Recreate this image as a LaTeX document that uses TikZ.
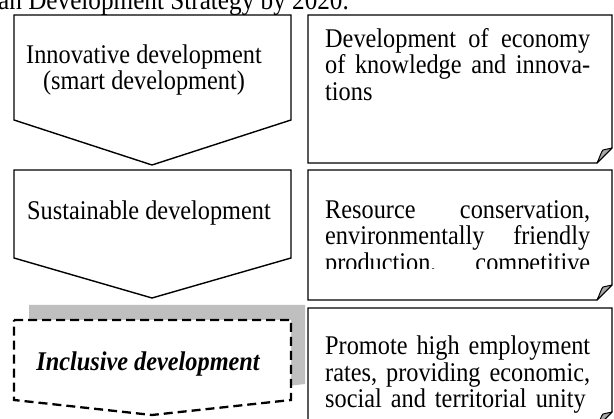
\documentclass[tikz,border=0pt]{standalone}
\usepackage{fontspec}
\setmainfont[FakeStretch=0.9]{Liberation Serif}
\begin{document}
\begin{tikzpicture}[x=1pt,y=-1pt,
  outline/.style={draw=black, line width=1.4pt, line join=miter},
  dashline/.style={draw=black, line width=2.3pt, dash pattern=on 9pt off 5pt},
  body/.style={font=\fontsize{27}{26.5}\selectfont, inner sep=0pt},
  note/.style={body, anchor=north west, text width=265pt, align=left},
  flap/.style={draw=black, line width=1pt, fill=black!35, line join=round}]
\useasboundingbox (0,0) rectangle (614,419);
\clip (0,0) rectangle (614,419);
\fill[white] (0,0) rectangle (614,419);

% heading line, cut by the upper edge
\node[body, anchor=base west, font=\fontsize{28}{26}\selectfont] (head) at (-2,10) {an Development Strategy by 2020.};

% ---------- row 1 ----------
\draw[outline] (14,15) -- (291,15) -- (291,120) -- (152,165) -- (14,120) -- cycle;
\node[body, align=center] (smart) at (144,70) {Innovative development\\(smart development)};
\draw[outline] (308,15) -- (612,15) -- (612,148) -- (597,163) -- (308,163) -- cycle;
\draw[flap] (612,148) -- (597,163) .. controls (600,157) and (601,152) .. (603,150) -- cycle;
\node[note] (knowledge) at (325,28)
  {Development\hfill of\hfill economy\\ of\hfill knowledge\hfill and\hfill innova-\\ tions};

% ---------- row 2 ----------
\draw[outline] (14,170) -- (291,170) -- (291,258) -- (152,298) -- (14,258) -- cycle;
\node[body] (sustain) at (149,213) {Sustainable development};
\draw[outline] (308,170) -- (612,170) -- (612,285) -- (597,300) -- (308,300) -- cycle;
\draw[flap] (612,285) -- (597,300) .. controls (600,294) and (601,289) .. (603,287) -- cycle;
\begin{scope}
  \clip (310,172) rectangle (610,269);
  \node[note] (resource) at (325,200)
    {Resource\hfill conservation,\\ environmentally\hfill friendly\\ production,\hfill competitive};
\end{scope}

% ---------- row 3 ----------
% soft grey shadow behind the dashed arrow
\fill[black!25] (29,305) -- (305,305) -- (305,384) -- (166,400) -- (29,386) -- cycle;
\fill[white] (14,320) -- (291,320) -- (291,400) -- (152,415) -- (14,400) -- cycle;
\draw[dashline] (14,320) -- (291,320) -- (291,400) -- (152,415) -- (14,400) -- cycle;
\node[body, font=\fontsize{27}{26}\selectfont\bfseries\itshape] (inclusive) at (148,364) {Inclusive development};
\draw[outline] (308,308) -- (612,308) -- (612,412) -- (597,427) -- (308,427) -- cycle;
\draw[flap] (612,412) -- (597,427) .. controls (600,421) and (601,416) .. (603,414) -- cycle;
\node[note] (unity) at (325,336)
  {Promote\hfill high\hfill employment\\ rates,\hfill providing\hfill economic,\\ social and territorial unity};
\end{tikzpicture}
\end{document}
